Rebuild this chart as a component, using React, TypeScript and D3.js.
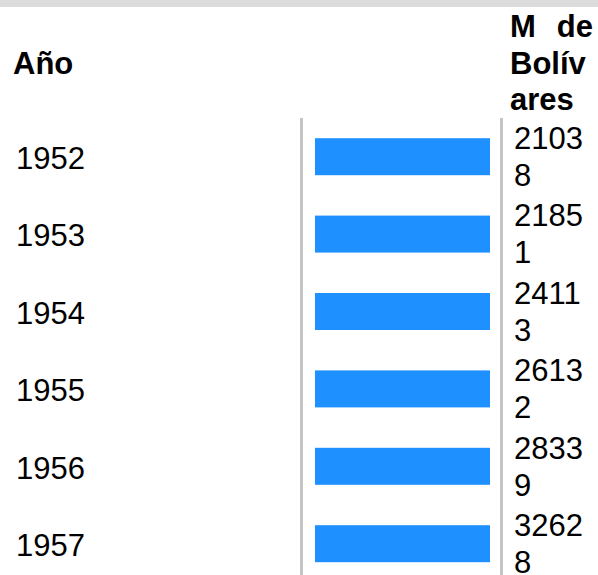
import { useRef, useEffect } from 'react'
import * as d3 from 'd3'

const years = ['1952', '1953', '1954', '1955', '1956', '1957']
const values = [21038, 21851, 24113, 26132, 28339, 32628]
const headerYear = 'Año'
const headerValueLines = ['M de', 'Bolív', 'ares']

const W = 598
const H = 575

export default function App() {
  const svgRef = useRef<SVGSVGElement>(null)

  useEffect(() => {
    if (!svgRef.current) return
    const svg = d3.select(svgRef.current)
    svg.selectAll('*').remove()

    const font = "'Liberation Sans', Arial, sans-serif"
    const fs = 31

    // top grey strip
    svg.append('rect')
      .attr('x', 0).attr('y', 0)
      .attr('width', W).attr('height', 7)
      .attr('fill', '#dcdcdc')

    // header
    svg.append('text')
      .attr('x', 13).attr('y', 74)
      .attr('font-family', font).attr('font-weight', 'bold').attr('font-size', fs)
      .attr('fill', '#000')
      .text(headerYear)

    const hdr = svg.append('g')
      .attr('font-family', font).attr('font-weight', 'bold').attr('font-size', fs)
      .attr('fill', '#000')
    const [first, ...rest] = headerValueLines
    const words = first.split(' ')
    hdr.append('text').attr('x', 510).attr('y', 37).text(words[0])
    hdr.append('text').attr('x', 593).attr('y', 37).attr('text-anchor', 'end').text(words[1])
    rest.forEach((line, i) => {
      hdr.append('text').attr('x', 510).attr('y', 37 + 36.6 * (i + 1)).text(line)
    })

    // rows
    const y = d3.scaleBand<string>()
      .domain(years)
      .range([118, 118 + 77.4 * years.length])

    const x = d3.scaleLinear()
      .domain([0, 20000])
      .range([0, 175])
      .clamp(true)

    // column separators
    svg.append('rect')
      .attr('x', 300).attr('y', 118)
      .attr('width', 3).attr('height', H - 118)
      .attr('fill', '#c4c4c4')
    svg.append('rect')
      .attr('x', 500).attr('y', 118)
      .attr('width', 3).attr('height', H - 118)
      .attr('fill', '#c4c4c4')

    const rows = svg.selectAll('.row')
      .data(years.map((yr, i) => ({ year: yr, value: values[i] })))
      .enter()
      .append('g')
      .attr('class', 'row')
      .attr('transform', d => `translate(0,${y(d.year)})`)

    const bh = 37
    rows.append('rect')
      .attr('x', 315)
      .attr('y', (y.bandwidth() - bh) / 2)
      .attr('width', d => x(d.value))
      .attr('height', bh)
      .attr('fill', '#1e90ff')

    rows.append('text')
      .attr('x', 16)
      .attr('y', 51)
      .attr('font-family', font).attr('font-size', fs)
      .attr('fill', '#000')
      .text(d => d.year)

    const vt = rows.append('text')
      .attr('font-family', font).attr('font-size', fs)
      .attr('fill', '#000')
    vt.append('tspan')
      .attr('x', 514).attr('y', 31)
      .text(d => String(d.value).slice(0, 4))
    vt.append('tspan')
      .attr('x', 514).attr('y', 68)
      .text(d => String(d.value).slice(4))
  }, [])

  return (
    <svg
      ref={svgRef}
      width={W}
      height={H}
      style={{ position: 'absolute', left: 0, top: 0, background: '#fff' }}
    />
  )
}
